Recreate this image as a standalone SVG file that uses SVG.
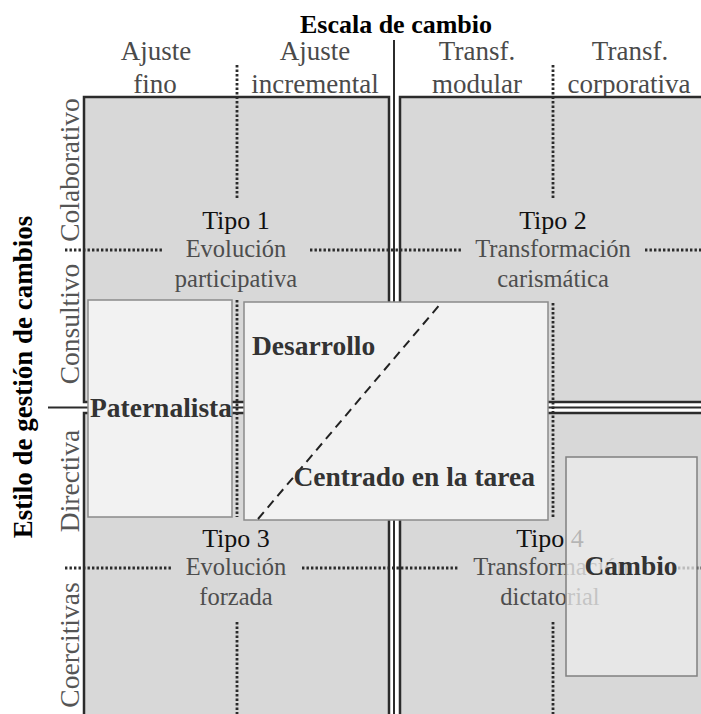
<svg xmlns="http://www.w3.org/2000/svg" width="701" height="714" viewBox="0 0 701 714">
<style>
  text { font-family: "Liberation Serif", "Times New Roman", serif; }
  .title { font-size: 26px; font-weight: bold; fill: #000; }
  .ytitle { font-size: 27px; font-weight: bold; fill: #000; }
  .hdr { font-size: 27px; fill: #4a4a4a; text-anchor: middle; }
  .seg { font-size: 27.5px; fill: #555; text-anchor: middle; }
  .tipo { font-size: 26px; fill: #111; text-anchor: middle; }
  .sub { font-size: 24.5px; fill: #4d4d4d; text-anchor: middle; }
  .bold { font-size: 27.5px; font-weight: bold; fill: #333; }
  .quad { fill: #d8d8d8; stroke: #2b2b2b; stroke-width: 2.5; }
  .mid { stroke: #2b2b2b; stroke-width: 2; fill: none; }
  .dot { stroke: #2b2b2b; stroke-width: 2.8; stroke-dasharray: 2.4 2.1; fill: none; }
  .box { fill: #f2f2f2; stroke: #8a8a8a; stroke-width: 1.5; }
</style>
<rect x="0" y="0" width="701" height="714" fill="#ffffff"/>

<g id="axes">
  <text class="title" x="396" y="33" text-anchor="middle">Escala de cambio</text>
  <text class="ytitle" transform="translate(32,377) rotate(-90)" text-anchor="middle">Estilo de gestión de cambios</text>
  <text class="hdr" x="156" y="60">Ajuste</text>
  <text class="hdr" x="155" y="93">fino</text>
  <text class="hdr" x="315" y="60">Ajuste</text>
  <text class="hdr" x="315" y="93">incremental</text>
  <text class="hdr" x="477" y="60">Transf.</text>
  <text class="hdr" x="477" y="93">modular</text>
  <text class="hdr" x="630" y="60">Transf.</text>
  <text class="hdr" x="629" y="93">corporativa</text>
  <text class="seg" transform="translate(79,170) rotate(-90)">Colaborativo</text>
  <text class="seg" transform="translate(79,324) rotate(-90)">Consultivo</text>
  <text class="seg" transform="translate(79,481) rotate(-90)">Directiva</text>
  <text class="seg" transform="translate(79,645) rotate(-90)">Coercitivas</text>
</g>

<g id="quadrants">
  <rect class="quad" x="84" y="97" width="305" height="305"/>
  <rect class="quad" x="400" y="97" width="312" height="305"/>
  <rect class="quad" x="84" y="413" width="305" height="312"/>
  <rect class="quad" x="400" y="413" width="312" height="312"/>
</g>

<g id="connectors">
  <line class="mid" x1="394" y1="40" x2="394" y2="714"/>
  <line class="mid" x1="48" y1="407.5" x2="701" y2="407.5"/>
  <line class="dot" x1="237" y1="65" x2="237" y2="198"/>
  <line class="dot" x1="237" y1="300" x2="237" y2="517"/>
  <line class="dot" x1="237" y1="622" x2="237" y2="714"/>
  <line class="dot" x1="553" y1="65" x2="553" y2="198"/>
  <line class="dot" x1="553" y1="303" x2="553" y2="517"/>
  <line class="dot" x1="553" y1="622" x2="553" y2="714"/>
  <line class="dot" x1="65" y1="250" x2="163" y2="250"/>
  <line class="dot" x1="310" y1="250" x2="462" y2="250"/>
  <line class="dot" x1="645" y1="250" x2="701" y2="250"/>
  <line class="dot" x1="65" y1="568" x2="172" y2="568"/>
  <line class="dot" x1="302" y1="568" x2="458" y2="568"/>
  <line class="dot" x1="678" y1="568" x2="701" y2="568"/>
</g>

<g id="tipo1">
  <text class="tipo" x="236" y="229">Tipo 1</text>
  <text class="sub" x="236" y="257">Evolución</text>
  <text class="sub" x="236" y="287">participativa</text>
</g>
<g id="tipo2">
  <text class="tipo" x="553" y="229">Tipo 2</text>
  <text class="sub" x="553" y="257">Transformación</text>
  <text class="sub" x="553" y="287">carismática</text>
</g>
<g id="tipo3">
  <text class="tipo" x="236" y="547">Tipo 3</text>
  <text class="sub" x="236" y="575">Evolución</text>
  <text class="sub" x="236" y="605">forzada</text>
</g>
<g id="tipo4">
  <text class="tipo" x="550" y="547">Tipo 4</text>
  <text class="sub" x="551" y="575">Transformación</text>
  <text class="sub" x="550" y="605">dictatorial</text>
</g>

<g id="paternalista">
  <rect class="box" x="88" y="300" width="144" height="217"/>
  <text class="bold" x="161" y="417" text-anchor="middle">Paternalista</text>
</g>

<g id="desarrollo">
  <rect class="box" x="244" y="302" width="304" height="218"/>
  <line x1="258" y1="519" x2="442" y2="302" stroke="#222" stroke-width="2" stroke-dasharray="9 6"/>
  <text class="bold" x="252" y="355">Desarrollo</text>
  <text class="bold" x="535" y="486" text-anchor="end">Centrado en la tarea</text>
</g>

<g id="cambio">
  <rect x="566" y="457" width="131" height="219" fill="#ececec" fill-opacity="0.75" stroke="#808080" stroke-width="1.5"/>
  <text class="bold" x="631" y="575" text-anchor="middle">Cambio</text>
</g>
</svg>
